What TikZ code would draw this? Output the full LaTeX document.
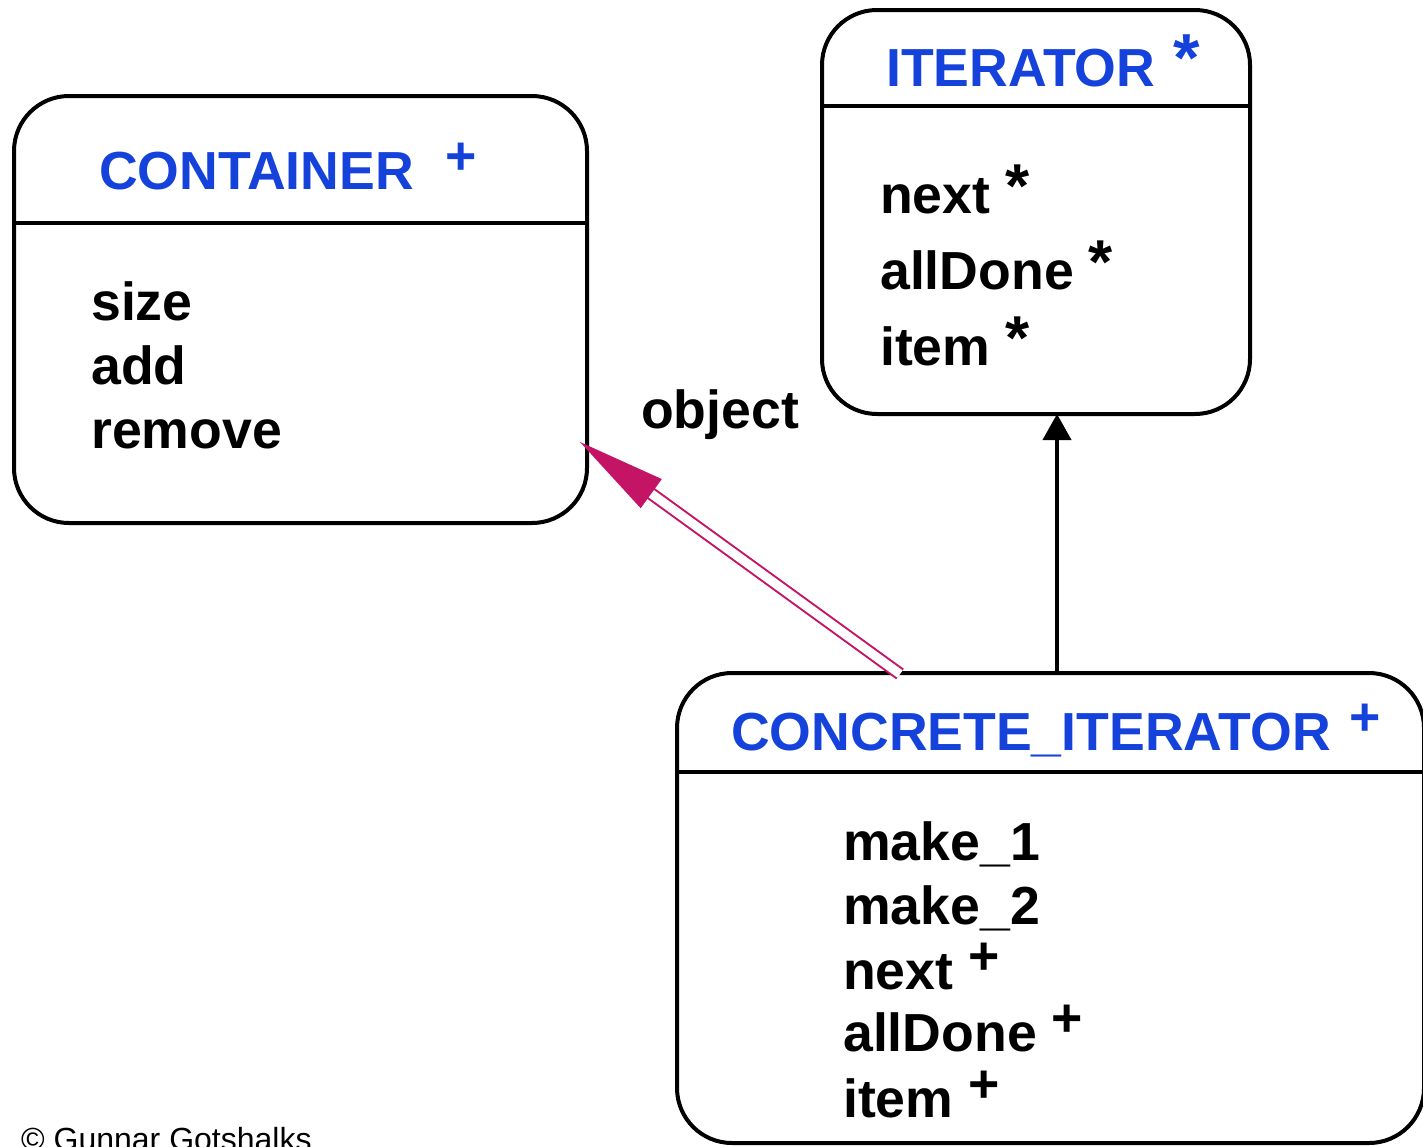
\documentclass[tikz,border=0pt]{standalone}
\usepackage{fontspec}
\setmainfont{Liberation Sans}
\usetikzlibrary{arrows.meta,calc}
\definecolor{titleblue}{RGB}{20,66,218}
\definecolor{assoc}{RGB}{196,20,102}
% raised feature tags
\newcommand\featplus{\raisebox{15pt}{+}}
\newcommand\featstar{\raisebox{6pt}{\fontsize{62}{62}\selectfont *}}
\newcommand\titlestar{\raisebox{5pt}{\fontsize{68}{68}\selectfont *}}
\begin{document}
\begin{tikzpicture}[x=1pt,y=-1pt,
  classbox/.style={draw, line width=4pt, rounded corners=55pt, inner sep=0pt, outer sep=0pt},
  divider/.style={line width=4pt},
  classtitle/.style={anchor=base west, inner sep=0pt, text=titleblue,
    font=\fontsize{53.6}{60}\selectfont\bfseries},
  feature/.style={anchor=base west, inner sep=0pt,
    font=\fontsize{53.6}{60}\selectfont\bfseries},
  inherit/.style={line width=4pt, -{Triangle[length=26pt,width=28pt]}},
  client/.style={draw=assoc, line width=2pt, double=white, double distance=9pt},
]
\useasboundingbox (0,0) rectangle (1423,1146);

% --- CONTAINER ---
\node[classbox, minimum width=573pt, minimum height=427pt] (container) at (300.5,309.5) {};
\draw[divider] (14,223) -- (587,223);
\node[classtitle] (container-title) at (99,189) {CONTAINER\hspace{32pt}\featplus};
\node[feature] (c-size)   at (91,320) {size};
\node[feature] (c-add)    at (91,384) {add};
\node[feature] (c-remove) at (91,448) {remove};

% --- ITERATOR ---
\node[classbox, minimum width=428pt, minimum height=404pt] (iterator) at (1036,212) {};
\draw[divider] (822,106) -- (1250,106);
\node[classtitle] (iterator-title) at (886,86) {ITERATOR\hspace{18pt}\titlestar};
\node[feature] (i-next)    at (880,213) {next \featstar};
\node[feature] (i-alldone) at (880,289) {allDone \featstar};
\node[feature] (i-item)    at (880,365) {item \featstar};

% --- CONCRETE_ITERATOR ---
\node[classbox, minimum width=747pt, minimum height=470pt] (concrete) at (1050.5,908) {};
\draw[divider] (677,772) -- (1424,772);
\node[classtitle] (concrete-title) at (731,750) {CONCRETE\_ITERATOR\hspace{19pt}\featplus};
\node[feature] (k-make1)   at (843,860)  {make\_1};
\node[feature] (k-make2)   at (843,924)  {make\_2};
\node[feature] (k-next)    at (843,989)  {next \featplus};
\node[feature] (k-alldone) at (843,1051) {allDone \featplus};
\node[feature] (k-item)    at (843,1117) {item \featplus};

% --- inheritance: CONCRETE_ITERATOR -> ITERATOR ---
\coordinate (inherit-from) at (1057,673);
\draw[inherit] (inherit-from) -- (inherit-from |- iterator.south);

% --- client relation: CONCRETE_ITERATOR -> CONTAINER ---
\coordinate (client-from) at (900,674);
\coordinate (client-to) at (580,442);
\coordinate (client-base) at ($(client-to)!88pt!(client-from)$);
\draw[client] (client-from) -- ($(client-to)!80pt!(client-from)$);
\fill[assoc] (client-to) -- ($(client-base)!18pt!90:(client-to)$)
  -- ($(client-base)!18pt!-90:(client-to)$) -- cycle;
\node[feature] (client-label) at (641,428) {object};

% --- copyright line ---
\node[anchor=base west, inner sep=0pt, font=\fontsize{32}{36}\selectfont]
  (copyright) at (21,1150) {© Gunnar Gotshalks};
\end{tikzpicture}
\end{document}
